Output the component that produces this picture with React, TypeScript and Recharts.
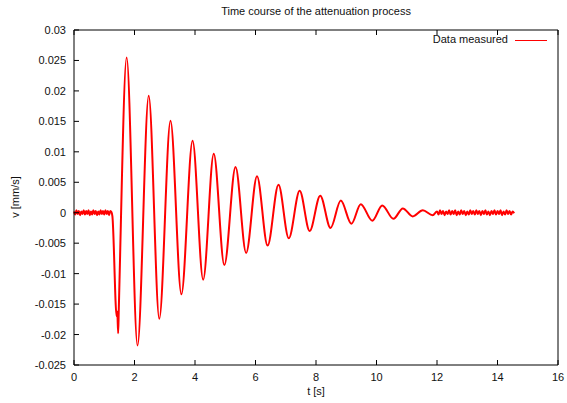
import React from 'react';
import { LineChart, Line, XAxis, YAxis } from 'recharts';

// baseline before the impulse: [t (s), v (mm/s)]
const baselineBefore: [number, number][] = [
  [0.00, 0.0002], [0.04, -0.0003], [0.08, 0.0004], [0.12, -0.0002], [0.16, 0.0003],
  [0.20, -0.0004], [0.24, 0.0002], [0.28, -0.0002], [0.32, 0.0004], [0.36, -0.0003],
  [0.40, 0.0003], [0.44, -0.0002], [0.48, 0.0004], [0.52, -0.0004], [0.56, 0.0002],
  [0.60, -0.0003], [0.64, 0.0004], [0.68, -0.0002], [0.72, 0.0003], [0.76, -0.0004],
  [0.80, 0.0002], [0.84, -0.0003], [0.88, 0.0004], [0.92, -0.0002], [0.96, 0.0003],
  [1.00, -0.0003], [1.04, 0.0004], [1.08, -0.0002], [1.12, 0.0003], [1.16, -0.0004],
  [1.20, 0.0003], [1.24, 0.0001],
];

// peaks and troughs of the damped oscillation
const oscillation: [number, number][] = [
  [1.27, -0.0006], [1.41, -0.0170], [1.43, -0.0162], [1.46, -0.0198], [1.48, -0.0160],
  [1.74, 0.0255], [2.10, -0.0218], [2.47, 0.0192], [2.82, -0.0174], [3.19, 0.0151],
  [3.55, -0.0134], [3.92, 0.0118], [4.27, -0.0110], [4.62, 0.0097], [4.97, -0.0086],
  [5.34, 0.0075], [5.69, -0.0066], [6.05, 0.0060], [6.40, -0.0054], [6.76, 0.0046],
  [7.10, -0.0042], [7.46, 0.0036], [7.79, -0.0030], [8.14, 0.0028], [8.48, -0.0025],
  [8.82, 0.0020], [9.17, -0.0018], [9.48, 0.0014], [9.86, -0.0013], [10.19, 0.0012],
  [10.56, -0.0010], [10.87, 0.0007], [11.20, -0.0006], [11.53, 0.0004], [11.86, -0.0004],
];

// settled noise at the end
const baselineAfter: [number, number][] = [
  [12.00, 0.0002], [12.05, -0.0003], [12.10, 0.0004], [12.15, -0.0002], [12.20, 0.0003],
  [12.25, -0.0004], [12.30, 0.0002], [12.35, -0.0002], [12.40, 0.0004], [12.45, -0.0003],
  [12.50, 0.0003], [12.55, -0.0002], [12.60, 0.0004], [12.65, -0.0004], [12.70, 0.0002],
  [12.75, -0.0003], [12.80, 0.0004], [12.85, -0.0002], [12.90, 0.0003], [12.95, -0.0004],
  [13.00, 0.0002], [13.05, -0.0003], [13.10, 0.0004], [13.15, -0.0002], [13.20, 0.0003],
  [13.25, -0.0003], [13.30, 0.0004], [13.35, -0.0002], [13.40, 0.0003], [13.45, -0.0004],
  [13.50, 0.0003], [13.55, -0.0002], [13.60, 0.0004], [13.65, -0.0003], [13.70, 0.0002],
  [13.75, -0.0004], [13.80, 0.0003], [13.85, -0.0002], [13.90, 0.0004], [13.95, -0.0003],
  [14.00, 0.0003], [14.05, -0.0002], [14.10, 0.0004], [14.15, -0.0004], [14.20, 0.0002],
  [14.25, -0.0003], [14.30, 0.0004], [14.35, -0.0002], [14.40, 0.0003], [14.45, -0.0003],
  [14.50, 0.0002], [14.55, -0.0001],
];

const xTicks = [0, 2, 4, 6, 8, 10, 12, 14, 16];
const yTicks = [-0.025, -0.02, -0.015, -0.01, -0.005, 0, 0.005, 0.01, 0.015, 0.02, 0.025, 0.03];

const data = [...baselineBefore, ...oscillation, ...baselineAfter].map(([t, v]) => ({ t, v }));

const W = 567;
const H = 403;
const LEFT = 74;
const RIGHT = 558;
const TOP = 30;
const BOTTOM = 365;
const TICK = 5;
const FONT = '"Liberation Sans", Arial, sans-serif';
const TEXT = '#111';

const BottomTick = (props: any) => {
  const { x, payload } = props;
  return (
    <g>
      <line x1={x} x2={x} y1={BOTTOM} y2={BOTTOM - TICK} stroke="#000" />
      <text x={x} y={381} textAnchor="middle" fontSize={11} fontFamily={FONT} fill={TEXT}>
        {payload.value}
      </text>
    </g>
  );
};

const TopTick = (props: any) => {
  const { x } = props;
  return <line x1={x} x2={x} y1={TOP} y2={TOP + TICK} stroke="#000" />;
};

const LeftTick = (props: any) => {
  const { y, payload } = props;
  return (
    <g>
      <line x1={LEFT} x2={LEFT + TICK} y1={y} y2={y} stroke="#000" />
      <text x={66} y={y + 4} textAnchor="end" fontSize={11} fontFamily={FONT} fill={TEXT}>
        {String(payload.value)}
      </text>
    </g>
  );
};

const RightTick = (props: any) => {
  const { y } = props;
  return <line x1={RIGHT} x2={RIGHT - TICK} y1={y} y2={y} stroke="#000" />;
};

export default function App() {
  return (
    <div style={{ position: 'absolute', left: 0, top: 0, width: W, height: H, background: '#fff', fontFamily: FONT }}>
      <LineChart
        width={W}
        height={H}
        data={data}
        margin={{ top: TOP - 10, right: W - RIGHT - 10, bottom: H - BOTTOM - 20, left: LEFT - 30 }}
      >
        <XAxis
          xAxisId="bottom"
          dataKey="t"
          type="number"
          domain={[0, 16]}
          ticks={xTicks}
          height={20}
          tickLine={false}
          axisLine={{ stroke: '#000' }}
          tick={BottomTick}
          interval={0}
        />
        <XAxis
          xAxisId="top"
          orientation="top"
          dataKey="t"
          type="number"
          domain={[0, 16]}
          ticks={xTicks}
          height={10}
          tickLine={false}
          axisLine={{ stroke: '#000' }}
          tick={TopTick}
          interval={0}
        />
        <YAxis
          yAxisId="left"
          type="number"
          domain={[-0.025, 0.03]}
          ticks={yTicks}
          width={30}
          tickLine={false}
          axisLine={{ stroke: '#000' }}
          tick={LeftTick}
          interval={0}
        />
        <YAxis
          yAxisId="right"
          orientation="right"
          type="number"
          domain={[-0.025, 0.03]}
          ticks={yTicks}
          width={10}
          tickLine={false}
          axisLine={{ stroke: '#000' }}
          tick={RightTick}
          interval={0}
        />
        <Line
          xAxisId="bottom"
          yAxisId="left"
          type="monotone"
          dataKey="v"
          stroke="#ff0000"
          strokeWidth={2}
          dot={false}
          isAnimationActive={false}
        />
      </LineChart>

      <div style={{ position: 'absolute', left: 0, width: 632, top: 5, textAlign: 'center', fontSize: 11, color: TEXT }}>
        Time course of the attenuation process
      </div>
      <div style={{ position: 'absolute', left: 0, width: 632, top: 385, textAlign: 'center', fontSize: 11, color: TEXT }}>
        t [s]
      </div>
      <div
        style={{
          position: 'absolute', left: 15, top: 197, fontSize: 11, color: TEXT, whiteSpace: 'nowrap',
          transform: 'translate(-50%, -50%) rotate(-90deg)',
        }}
      >
        v [mm/s]
      </div>
      <div style={{ position: 'absolute', right: W - 508, top: 33, fontSize: 11, color: TEXT, whiteSpace: 'nowrap' }}>
        Data measured
      </div>
      <div style={{ position: 'absolute', left: 515, top: 40, width: 32, height: 1.3, background: '#ff0000' }} />
    </div>
  );
}
